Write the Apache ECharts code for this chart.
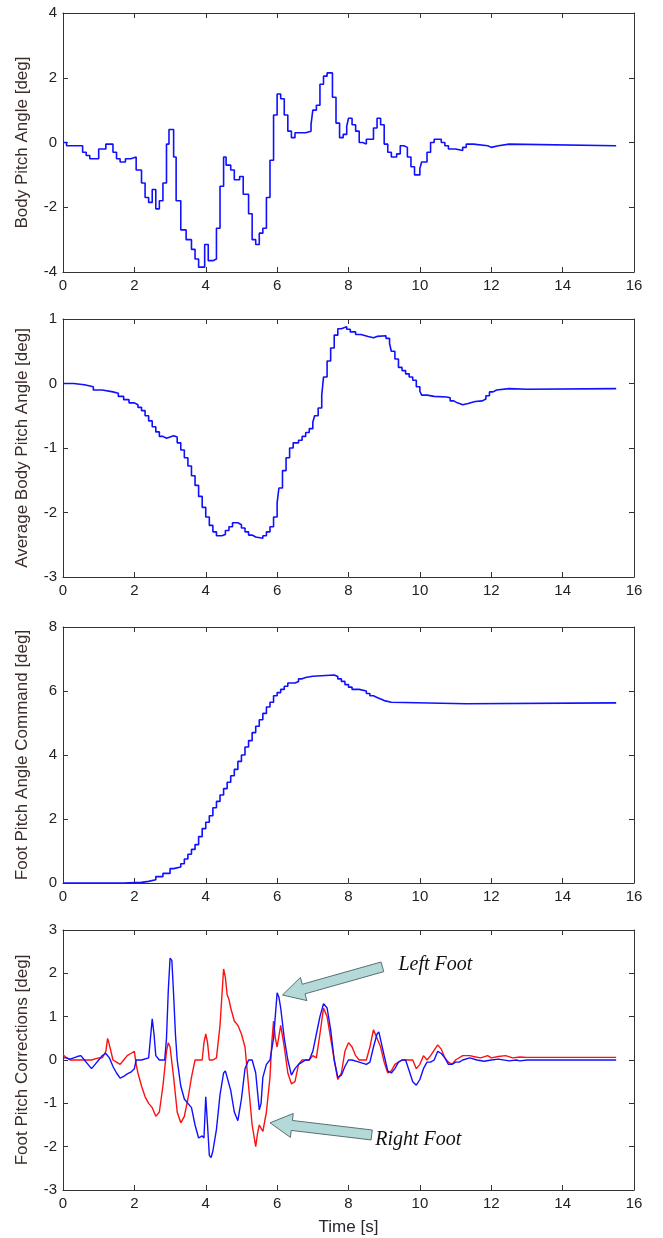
<!DOCTYPE html>
<html>
<head>
<meta charset="utf-8">
<script src="https://cdn.jsdelivr.net/npm/echarts@6/dist/echarts.min.js"></script>
<style>
  html, body { margin: 0; padding: 0; background: #fff; }
  #main { width: 663px; height: 1238px; }
</style>
</head>
<body>
<div id="main"></div>
<script>
// [time s, value deg] — step signals hold value until next time
var bodyPitch = [
  [0,0],[0.1,-0.1],[0.55,-0.3],[0.65,-0.4],[0.75,-0.5],[1.0,-0.2],[1.2,-0.05],[1.4,-0.3],[1.5,-0.5],
  [1.6,-0.6],[1.75,-0.5],[1.9,-0.45],[2.05,-0.85],[2.2,-1.25],[2.3,-1.7],[2.4,-1.85],[2.5,-1.45],
  [2.6,-2.05],[2.7,-1.8],[2.8,-1.25],[2.9,-0.05],[2.97,0.4],[3.1,-0.45],[3.17,-1.8],[3.3,-2.7],
  [3.45,-3.0],[3.6,-3.3],[3.7,-3.6],[3.8,-3.85],[3.97,-3.15],[4.07,-3.65],[4.2,-3.6],[4.3,-2.65],
  [4.4,-1.35],[4.5,-0.45],[4.57,-0.7],[4.7,-0.85],[4.8,-1.15],[4.95,-1.05],[5.05,-1.6],[5.2,-2.2],
  [5.3,-3.0],[5.4,-3.15],[5.5,-2.8],[5.6,-2.65],[5.7,-1.7],[5.8,-0.55],[5.9,0.85],[6.0,1.5],
  [6.1,1.35],[6.2,0.85],[6.3,0.35],[6.4,0.15],[6.5,0.3],[6.8,0.35],[6.95,0.55],[7.0,1.0],[7.1,1.15],
  [7.2,1.8],[7.3,2.05],[7.4,2.15],[7.55,1.4],[7.65,0.6],[7.75,0.15],[7.85,0.25],[7.95,0.5],[8.0,0.75],
  [8.1,0.55],[8.2,0.35],[8.3,0.0],[8.4,-0.05],[8.5,0.1],[8.7,0.45],[8.8,0.75],[8.9,0.55],[9.0,-0.05],
  [9.1,-0.3],[9.2,-0.45],[9.35,-0.35],[9.45,-0.1],[9.55,-0.15],[9.65,-0.45],[9.75,-0.75],[9.85,-1.0],
  [10.0,-0.8],[10.05,-0.6],[10.2,-0.3],[10.3,0.0],[10.4,0.1],[10.6,0.0],[10.7,-0.1],[10.8,-0.2],
  [11.0,-0.25],[11.2,-0.15],[11.3,-0.05],[11.5,-0.1],[11.9,-0.15],[12.0,-0.1],[12.2,-0.05],
  [12.5,-0.1],[15.5,-0.1]
];

var avgBodyPitch = [
  [0,0],[0.3,-0.02],[0.6,-0.05],[0.85,-0.1],[1.1,-0.13],[1.4,-0.15],[1.55,-0.2],[1.7,-0.25],
  [1.85,-0.3],[2.0,-0.33],[2.1,-0.37],[2.2,-0.42],[2.3,-0.5],[2.4,-0.58],[2.5,-0.67],[2.6,-0.75],
  [2.7,-0.82],[2.8,-0.85],[2.9,-0.83],[3.0,-0.81],[3.1,-0.83],[3.2,-0.92],[3.3,-1.03],[3.4,-1.15],
  [3.5,-1.28],[3.6,-1.43],[3.7,-1.58],[3.8,-1.75],[3.9,-1.92],[4.0,-2.07],[4.1,-2.2],[4.2,-2.3],
  [4.3,-2.36],[4.45,-2.34],[4.55,-2.28],[4.65,-2.22],[4.75,-2.16],[4.9,-2.19],[5.0,-2.24],
  [5.1,-2.3],[5.2,-2.35],[5.3,-2.38],[5.4,-2.4],[5.6,-2.36],[5.7,-2.3],[5.8,-2.22],[5.9,-2.07],
  [6.0,-1.85],[6.05,-1.62],[6.15,-1.35],[6.25,-1.15],[6.35,-1.0],[6.45,-0.92],[6.6,-0.88],
  [6.7,-0.82],[6.8,-0.76],[6.9,-0.7],[7.0,-0.6],[7.05,-0.5],[7.15,-0.38],[7.25,-0.18],[7.3,0.1],
  [7.4,0.35],[7.5,0.55],[7.6,0.75],[7.7,0.85],[7.8,0.88],[7.95,0.84],[8.05,0.8],[8.2,0.76],
  [8.35,0.73],[8.55,0.71],[8.7,0.73],[8.8,0.74],[9.05,0.7],[9.15,0.62],[9.2,0.5],[9.3,0.38],
  [9.4,0.25],[9.5,0.2],[9.6,0.15],[9.7,0.1],[9.8,0.05],[9.9,-0.05],[10.0,-0.12],[10.05,-0.18],
  [10.2,-0.2],[10.4,-0.21],[10.75,-0.22],[10.85,-0.27],[10.95,-0.3],[11.05,-0.33],[11.2,-0.31],
  [11.35,-0.28],[11.55,-0.27],[11.75,-0.24],[11.85,-0.19],[11.95,-0.13],[12.05,-0.1],
  [12.15,-0.08],[12.5,-0.09],[13.0,-0.08],[15.5,-0.08]
];

var footCommand = [
  [0,0],[1.7,0.02],[2.2,0.05],[2.4,0.1],[2.6,0.2],[2.8,0.3],[3.0,0.45],[3.1,0.5],[3.3,0.6],
  [3.4,0.75],[3.5,0.9],[3.6,1.05],[3.7,1.2],[3.8,1.45],[3.9,1.7],[4.0,1.9],[4.1,2.1],[4.2,2.35],
  [4.3,2.55],[4.4,2.75],[4.5,2.95],[4.6,3.15],[4.7,3.35],[4.8,3.55],[4.9,3.8],[5.0,4.0],[5.1,4.25],
  [5.2,4.45],[5.3,4.7],[5.4,4.9],[5.5,5.1],[5.6,5.3],[5.7,5.5],[5.8,5.65],[5.9,5.85],[6.0,5.95],
  [6.1,6.05],[6.2,6.15],[6.3,6.25],[6.5,6.3],[6.6,6.38],[6.7,6.42],[6.8,6.46],[7.0,6.5],[7.6,6.45],
  [7.7,6.38],[7.8,6.3],[7.9,6.2],[8.0,6.12],[8.1,6.05],[8.3,6.0],[8.5,5.92],[8.6,5.85],[8.7,5.8],
  [8.8,5.75],[8.9,5.7],[9.0,5.65],[9.2,5.6],[11.3,5.63],[15.5,5.63]
];

var leftFoot = [
  [0,0.05],[0.1,0.05],[0.2,0.02],[0.3,0.05],[0.4,0.08],[0.5,0.1],[0.6,0],[0.7,-0.1],[0.8,-0.2],
  [0.9,-0.1],[1.0,0],[1.1,0.1],[1.2,0.15],[1.3,0.05],[1.4,-0.15],[1.5,-0.3],[1.6,-0.42],[1.7,-0.38],
  [1.8,-0.32],[1.9,-0.28],[2.0,-0.2],[2.05,0],[2.2,0],[2.4,0.05],[2.45,0.5],[2.5,0.95],[2.55,0.6],
  [2.6,0.1],[2.7,0],[2.85,0],[2.9,0.5],[2.95,1.6],[3.0,2.35],[3.05,2.3],[3.1,1.5],[3.15,0.6],
  [3.2,0],[3.3,-0.6],[3.4,-0.9],[3.5,-1.0],[3.6,-1.1],[3.7,-1.5],[3.8,-1.8],[3.9,-1.75],[3.95,-1.8],
  [4.0,-0.85],[4.05,-1.5],[4.1,-2.2],[4.15,-2.25],[4.2,-2.1],[4.3,-1.6],[4.4,-0.8],[4.5,-0.3],
  [4.55,-0.25],[4.6,-0.4],[4.7,-0.7],[4.8,-1.2],[4.9,-1.4],[5.0,-0.9],[5.1,-0.2],[5.2,0],[5.3,0],
  [5.4,-0.3],[5.5,-1.15],[5.55,-1.0],[5.6,-0.4],[5.7,-0.1],[5.8,0],[5.9,0.5],[6.0,1.55],[6.05,1.45],
  [6.1,1.2],[6.2,0.5],[6.3,0],[6.4,-0.35],[6.5,-0.2],[6.6,-0.1],[6.7,-0.05],[6.8,0],[6.9,0],
  [7.0,0.2],[7.1,0.6],[7.2,1.0],[7.3,1.3],[7.4,1.2],[7.5,0.7],[7.6,0],[7.7,-0.4],[7.8,-0.35],
  [7.9,-0.15],[8.0,0],[8.1,0],[8.3,-0.05],[8.5,-0.1],[8.6,-0.05],[8.7,0.3],[8.8,0.6],[8.85,0.65],
  [9.0,0.1],[9.1,-0.25],[9.2,-0.3],[9.3,-0.2],[9.4,-0.05],[9.5,0],[9.6,0],[9.7,-0.25],[9.8,-0.5],
  [9.9,-0.58],[10.0,-0.45],[10.1,-0.2],[10.2,-0.05],[10.3,-0.05],[10.4,0],[10.5,0.2],[10.6,0.15],
  [10.7,0.05],[10.8,-0.1],[10.9,-0.1],[11.0,-0.05],[11.1,-0.05],[11.2,0],[11.4,0.05],[11.6,0],
  [11.8,-0.03],[12.0,0],[12.2,0.02],[12.5,-0.02],[12.7,0],[12.8,-0.02],[13.0,0],[15.5,0]
];

var rightFoot = [
  [0,0.12],[0.1,0.05],[0.2,0],[0.4,0],[0.6,0],[0.8,0],[1.0,0.05],[1.1,0.05],[1.2,0.2],[1.25,0.5],
  [1.3,0.35],[1.4,0],[1.5,-0.05],[1.6,-0.1],[1.7,0],[1.8,0.1],[1.9,0.15],[2.0,0.2],[2.05,-0.1],
  [2.1,-0.3],[2.2,-0.6],[2.3,-0.85],[2.4,-1.0],[2.5,-1.1],[2.6,-1.3],[2.7,-1.2],[2.8,-0.6],
  [2.9,0.2],[2.95,0.4],[3.0,0.3],[3.1,-0.4],[3.2,-1.2],[3.3,-1.45],[3.4,-1.3],[3.5,-0.9],[3.6,-0.4],
  [3.7,0],[3.8,0],[3.9,0],[3.95,0.4],[4.0,0.6],[4.05,0.4],[4.1,0],[4.2,0],[4.3,0.05],[4.4,0.8],
  [4.5,2.1],[4.55,1.9],[4.6,1.5],[4.65,1.4],[4.7,1.2],[4.8,0.9],[4.9,0.8],[5.0,0.6],[5.1,0.3],[5.2,-0.6],
  [5.3,-1.5],[5.4,-2.0],[5.45,-1.7],[5.5,-1.5],[5.6,-1.65],[5.7,-1.2],[5.8,-0.4],[5.85,0.4],
  [5.9,0.9],[5.95,0.5],[6.0,0.3],[6.1,0.8],[6.2,0.3],[6.3,-0.3],[6.4,-0.55],[6.5,-0.5],[6.6,-0.1],
  [6.7,0],[6.9,0],[7.0,0.1],[7.1,0.05],[7.2,0.6],[7.3,1.2],[7.4,1.0],[7.5,0.5],[7.6,0],[7.7,-0.45],
  [7.8,-0.3],[7.9,0.2],[8.0,0.4],[8.1,0.3],[8.2,0.1],[8.3,0],[8.5,0],[8.6,0.3],[8.7,0.7],[8.8,0.5],
  [8.9,0.3],[9.0,-0.05],[9.1,-0.3],[9.2,-0.25],[9.3,-0.1],[9.5,0],[9.8,0],[9.9,-0.2],[10.0,-0.1],
  [10.1,0.1],[10.2,0],[10.3,0.1],[10.5,0.35],[10.6,0.25],[10.7,0.05],[10.8,-0.05],[10.9,-0.1],
  [11.0,0],[11.2,0.1],[11.4,0.1],[11.5,0.08],[11.7,0.05],[11.9,0.1],[12.0,0.05],[12.2,0.08],
  [12.4,0.1],[12.6,0.05],[12.8,0.07],[13.0,0.06],[15.5,0.06]
];

var xTicks = { min: 0, max: 16, interval: 2 };
var yTicks = [
  { min: -4, max: 4, interval: 2 },
  { min: -3, max: 1, interval: 1 },
  { min: 0, max: 8, interval: 2 },
  { min: -3, max: 3, interval: 1 }
];
var yNames = [
  'Body Pitch Angle [deg]',
  'Average Body Pitch Angle [deg]',
  'Foot Pitch Angle Command [deg]',
  'Foot Pitch Corrections [deg]'
];

var FONT = '"Liberation Sans", Arial, sans-serif';
var gridTops = [13, 319, 627, 930];
var gridHeights = [259, 258, 256, 260];

var chart = echarts.init(document.getElementById('main'));

var grids = [], xAxes = [], yAxes = [];
for (var i = 0; i < 4; i++) {
  grids.push({ left: 63, width: 571, top: gridTops[i], height: gridHeights[i] });
  var line = { onZero: false, lineStyle: { color: '#333', width: 1 } };
  var tick = { inside: true, length: 5, lineStyle: { color: '#333' } };
  // bottom x
  xAxes.push({
    type: 'value', gridIndex: i, position: 'bottom',
    min: xTicks.min, max: xTicks.max, interval: xTicks.interval,
    axisLine: line, axisTick: tick, splitLine: { show: false },
    axisLabel: { color: '#222', fontSize: 15, fontFamily: FONT, margin: 6 },
    name: i === 3 ? 'Time [s]' : '', nameLocation: 'middle', nameGap: 29,
    nameTextStyle: { color: '#2a2530', fontSize: 17, fontFamily: FONT }
  });
  // top x (box)
  xAxes.push({
    type: 'value', gridIndex: i, position: 'top',
    min: xTicks.min, max: xTicks.max, interval: xTicks.interval,
    axisLine: line, axisTick: tick, splitLine: { show: false },
    axisLabel: { show: false }
  });
  yAxes.push({
    type: 'value', gridIndex: i, position: 'left',
    min: yTicks[i].min, max: yTicks[i].max, interval: yTicks[i].interval,
    axisLine: line, axisTick: tick, splitLine: { show: false },
    axisLabel: { color: '#222', fontSize: 15, fontFamily: FONT, margin: 6 },
    name: yNames[i], nameLocation: 'middle', nameGap: 32,
    nameTextStyle: { color: '#3a2c28', fontSize: 17, fontFamily: FONT }
  });
  yAxes.push({
    type: 'value', gridIndex: i, position: 'right',
    min: yTicks[i].min, max: yTicks[i].max, interval: yTicks[i].interval,
    axisLine: line, axisTick: tick, splitLine: { show: false },
    axisLabel: { show: false }
  });
}

function stepSeries(idx, data) {
  return {
    type: 'line', xAxisIndex: idx * 2, yAxisIndex: idx * 2, data: data,
    step: 'end', showSymbol: false, symbol: 'none',
    lineStyle: { color: '#1010ff', width: 1.6 }
  };
}

chart.setOption({
  animation: false,
  backgroundColor: '#fff',
  grid: grids,
  xAxis: xAxes,
  yAxis: yAxes,
  series: [
    stepSeries(0, bodyPitch),
    stepSeries(1, avgBodyPitch),
    stepSeries(2, footCommand),
    {
      name: 'Right Foot', type: 'line', xAxisIndex: 6, yAxisIndex: 6, data: rightFoot,
      showSymbol: false, symbol: 'none', lineStyle: { color: '#ff1010', width: 1.4 }
    },
    {
      name: 'Left Foot', type: 'line', xAxisIndex: 6, yAxisIndex: 6, data: leftFoot,
      showSymbol: false, symbol: 'none', lineStyle: { color: '#1010ff', width: 1.4 }
    }
  ]
});

// annotation arrows, anchored in data coordinates of the bottom panel
var notes = [
  { text: 'Left Foot', tip: [6.15, 1.5], tail: [8.95, 2.15], label: [9.4, 2.2] },
  { text: 'Right Foot', tip: [5.8, -1.45], tail: [8.65, -1.73], label: [8.75, -1.85] }
];

function arrowPoints(tip, tail, shaftW, headL, headW) {
  var dx = tip[0] - tail[0], dy = tip[1] - tail[1];
  var len = Math.sqrt(dx * dx + dy * dy);
  var ux = dx / len, uy = dy / len, nx = -uy, ny = ux;
  var bx = tip[0] - ux * headL, by = tip[1] - uy * headL;
  return [
    [tail[0] + nx * shaftW / 2, tail[1] + ny * shaftW / 2],
    [bx + nx * shaftW / 2, by + ny * shaftW / 2],
    [bx + nx * headW / 2, by + ny * headW / 2],
    tip,
    [bx - nx * headW / 2, by - ny * headW / 2],
    [bx - nx * shaftW / 2, by - ny * shaftW / 2],
    [tail[0] - nx * shaftW / 2, tail[1] - ny * shaftW / 2]
  ];
}

var graphics = [];
notes.forEach(function (n) {
  var tip = chart.convertToPixel({ xAxisIndex: 6, yAxisIndex: 6 }, n.tip);
  var tail = chart.convertToPixel({ xAxisIndex: 6, yAxisIndex: 6 }, n.tail);
  var lab = chart.convertToPixel({ xAxisIndex: 6, yAxisIndex: 6 }, n.label);
  graphics.push({
    type: 'polygon',
    shape: { points: arrowPoints(tip, tail, 10, 22, 24) },
    style: { fill: '#b3d9d9', stroke: '#5a7070', lineWidth: 1 },
    z: 100
  });
  graphics.push({
    type: 'text', x: lab[0], y: lab[1],
    style: {
      text: n.text, fill: '#111',
      font: 'italic 20px "Liberation Serif", "Times New Roman", serif',
      verticalAlign: 'middle'
    },
    z: 100
  });
});
chart.setOption({ graphic: graphics });
</script>
</body>
</html>
